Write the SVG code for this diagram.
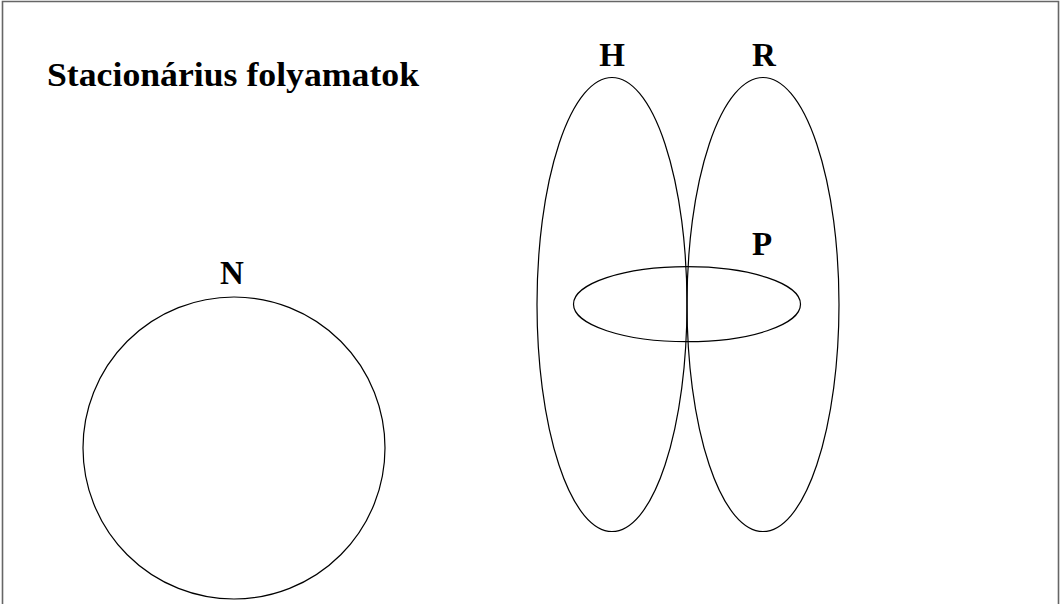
<svg xmlns="http://www.w3.org/2000/svg" width="1060" height="604" viewBox="0 0 1060 604">
<style>
.shape{fill:none;stroke:#000;stroke-width:1.2}
.lbl{font-family:"Liberation Serif","DejaVu Serif",serif;font-weight:bold;font-size:33px;fill:#000;text-anchor:middle}
.frame{fill:none;stroke:#666;stroke-width:1.6}
</style>
<rect width="1060" height="604" fill="#fff"/>
<path class="frame" d="M2.5,604 V1.5 H1058.5 V604"/>
<text x="47" y="86" font-family="Liberation Serif, DejaVu Serif, serif" font-weight="bold" font-size="33" textLength="372" lengthAdjust="spacingAndGlyphs">Stacionárius folyamatok</text>
<g id="N">
<circle class="shape" cx="234" cy="448" r="151"/>
<text class="lbl" x="232" y="284">N</text>
</g>
<g id="H">
<ellipse class="shape" cx="612" cy="304.5" rx="75" ry="227"/>
<text class="lbl" x="612" y="66">H</text>
</g>
<g id="R">
<ellipse class="shape" cx="763" cy="304.5" rx="76" ry="227"/>
<text class="lbl" x="764" y="66">R</text>
</g>
<g id="P">
<ellipse class="shape" cx="687" cy="304.2" rx="113.5" ry="37.5"/>
<text class="lbl" x="762" y="255">P</text>
</g>
<g id="connectors"></g>
</svg>
